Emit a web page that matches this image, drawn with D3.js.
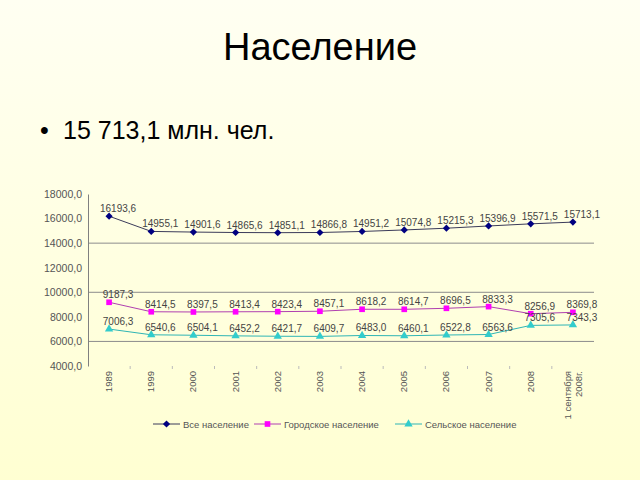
<!DOCTYPE html>
<html><head><meta charset="utf-8">
<script src="https://cdn.jsdelivr.net/npm/d3@7"></script>
<style>html,body{margin:0;padding:0;overflow:hidden;background:#FFFFE6}</style>
</head><body>
<svg id="c" width="640" height="480"></svg>
<script>
const categories = ["1989","1999","2000","2001","2002","2003","2004","2005","2006","2007","2008","1 сентября|2008г."];
const total = [16193.6,14955.1,14901.6,14865.6,14851.1,14866.8,14951.2,15074.8,15215.3,15396.9,15571.5,15713.1];
const urban = [9187.3,8414.5,8397.5,8413.4,8423.4,8457.1,8618.2,8614.7,8696.5,8833.3,8256.9,8369.8];
const rural = [7006.3,6540.6,6504.1,6452.2,6421.7,6409.7,6483.0,6460.1,6522.8,6563.6,7305.6,7343.3];
const yTicks = [4000,6000,8000,10000,12000,14000,16000,18000];
const gridTicks = [6000,10000,14000];
const seriesNames = ["Все население","Городское население","Сельское население"];

const svg = d3.select("#c");
const defs = svg.append("defs");
const g = defs.append("linearGradient").attr("id","bg").attr("x1",0).attr("y1",0).attr("x2",0).attr("y2",1);
g.append("stop").attr("offset","0%").attr("stop-color","#FFFFF2");
g.append("stop").attr("offset","100%").attr("stop-color","#FFFFD2");
svg.append("rect").attr("width",640).attr("height",480).attr("fill","url(#bg)");

const font = "Liberation Sans, Arial, sans-serif";
svg.append("text").attr("x",320).attr("y",60).attr("text-anchor","middle")
  .attr("font-family",font).attr("font-size",38).attr("fill","#000").text("Население");
svg.append("text").attr("x",40).attr("y",139)
  .attr("font-family",font).attr("font-size",25).attr("fill","#000").text("•");
svg.append("text").attr("x",63).attr("y",139)
  .attr("font-family",font).attr("font-size",25).attr("fill","#000").text("15 713,1 млн. чел.");

const x = d3.scaleBand().domain(categories).range([88,594]);
const y = d3.scaleLinear().domain([4000,18000]).range([366,194]);
const cx = d => x(d) + x.bandwidth()/2;

// grid
svg.append("g").selectAll("line").data(gridTicks).join("line")
  .attr("x1",88).attr("x2",594).attr("y1",d=>y(d)).attr("y2",d=>y(d))
  .attr("stroke","#8c8c8c").attr("stroke-width",1);

// y axis
const yAxis = d3.axisLeft(y).tickValues(yTicks).tickSize(0).tickPadding(6)
  .tickFormat(d => d3.format(".1f")(d).replace(".",","));
const ya = svg.append("g").attr("transform","translate(88,0)").call(yAxis);
ya.select(".domain").attr("stroke","#808080");
ya.selectAll("text").attr("font-family",font).attr("font-size",10.5).attr("fill","#555");

// x axis ticks & labels
const xa = svg.append("g");
xa.selectAll("line").data(categories.slice(1)).join("line")
  .attr("x1",d=>x(d)).attr("x2",d=>x(d)).attr("y1",366).attr("y2",369)
  .attr("stroke","#bbb");
const xl = xa.selectAll("text").data(categories).join("text")
  .attr("transform",d=>`translate(${cx(d)+3},371) rotate(-90)`)
  .attr("text-anchor","end").attr("font-family",font).attr("font-size",9.5).attr("fill","#555");
xl.each(function(d){
  const parts = d.split("|");
  const t = d3.select(this);
  parts.forEach((p,i)=>{
    t.append("tspan").attr("x",0).attr("dy", i===0 ? (parts.length>1 ? -5 : 0) : 11).text(p);
  });
});

const series = [
  {vals: total, line:"#3b3b5a", fill:"#000080", shape: d3.symbolSquare, size:26, rot:45},
  {vals: urban, line:"#b040b0", fill:"#FF00FF", shape: d3.symbolSquare, size:32, rot:0},
  {vals: rural, line:"#2fb5b5", fill:"#33CCCC", shape: d3.symbolTriangle, size:30, rot:0}
];
const line = d3.line().x((d,i)=>cx(categories[i])).y(d=>y(d));
series.forEach(s=>{
  svg.append("path").datum(s.vals).attr("d",line).attr("fill","none").attr("stroke",s.line).attr("stroke-width",1);
  svg.append("g").selectAll("path").data(s.vals).join("path")
    .attr("transform",(d,i)=>`translate(${cx(categories[i])},${y(d)}) rotate(${s.rot})`)
    .attr("d",d3.symbol().type(s.shape).size(s.size)).attr("fill",s.fill);
  svg.append("g").selectAll("text").data(s.vals).join("text")
    .attr("x",(d,i)=>cx(categories[i])+9).attr("y",d=>y(d)-4)
    .attr("text-anchor","middle").attr("font-family",font).attr("font-size",10).attr("fill","#444")
    .text(d=>d3.format(".1f")(d).replace(".",","));
});

// legend
const legX = [153, 254, 395];
const leg = svg.append("g");
series.forEach((s,i)=>{
  const lx = legX[i], ly = 424;
  leg.append("line").attr("x1",lx).attr("x2",lx+27).attr("y1",ly).attr("y2",ly).attr("stroke",s.line);
  leg.append("path").attr("transform",`translate(${lx+13.5},${ly}) rotate(${s.rot})`).attr("d",d3.symbol().type(s.shape).size(s.size)).attr("fill",s.fill);
  leg.append("text").attr("x",lx+30).attr("y",ly+3.5).attr("font-family",font).attr("font-size",9.5).attr("fill","#555").text(seriesNames[i]);
});
</script>
</body></html>
